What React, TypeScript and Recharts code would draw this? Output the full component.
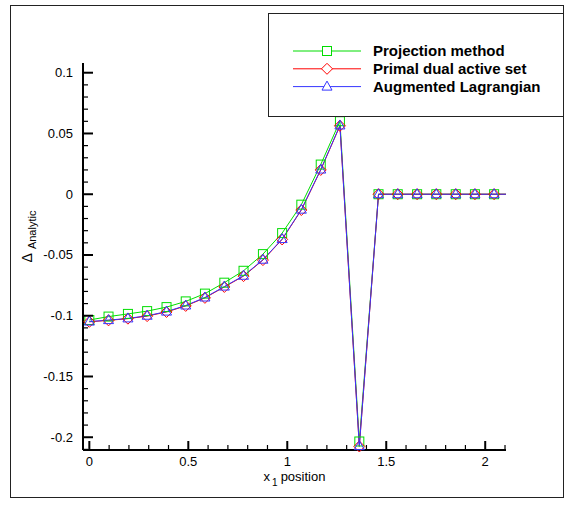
import { LineChart, Line, XAxis, YAxis, Label } from 'recharts'

// x position of every sample (last one has no marker, line just runs to the edge)
const xPos = [0, 0.097, 0.195, 0.292, 0.39, 0.487, 0.584, 0.682, 0.779, 0.877, 0.974, 1.071, 1.169, 1.266, 1.364, 1.461, 1.558, 1.656, 1.753, 1.851, 1.948, 2.045, 2.105]

const projection = [-0.1035, -0.1007, -0.0985, -0.0962, -0.0929, -0.0882, -0.0818, -0.0728, -0.063, -0.0493, -0.032, -0.0086, 0.0244, 0.0601, -0.2035, 0, 0, 0, 0, 0, 0, 0, 0]
const primalDual = [-0.105, -0.1038, -0.1024, -0.1003, -0.0969, -0.0919, -0.0853, -0.0763, -0.0674, -0.0542, -0.0372, -0.013, 0.02, 0.0563, -0.2076, 0, 0, 0, 0, 0, 0, 0, 0]
const augmented = [-0.1048, -0.1036, -0.1022, -0.1, -0.0966, -0.0916, -0.085, -0.076, -0.0671, -0.0539, -0.0369, -0.0127, 0.0203, 0.0566, -0.2073, 0, 0, 0, 0, 0, 0, 0, 0]

const xMajor = [0, 0.5, 1, 1.5, 2]
const yMajor = [-0.2, -0.15, -0.1, -0.05, 0, 0.05, 0.1]

// minor ticks every 0.1 on x, every 0.01 on y
const xTicks = Array.from({ length: 22 }, (_, i) => i / 10)
const yTicks = Array.from({ length: 32 }, (_, i) => Math.round((-0.21 + i * 0.01) * 100) / 100)

const data = xPos.map((x, i) => ({
  x,
  proj: projection[i],
  pdas: primalDual[i],
  al: augmented[i],
}))

const lastIdx = xPos.length - 1
const FONT = '"Liberation Sans", Arial, sans-serif'

const GREEN = '#00dd00'
const RED = '#ff0000'
const BLUE = '#3535ff'

const isMajor = (v: number, list: number[]) => list.some(m => Math.abs(m - v) < 1e-6)

const XTick = (p: any) => {
  const v = p.payload.value
  const major = isMajor(v, xMajor)
  const x = p.payload.coordinate
  const y = 450
  return (
    <g>
      <line x1={x} x2={x} y1={y} y2={y - (major ? 9 : 5)} stroke="#000" strokeWidth={major ? 2 : 1.2} />
      {major && (
        <text x={x} y={y + 16} textAnchor="middle" fontSize={13} fontFamily={FONT} fill="#000">{String(v)}</text>
      )}
    </g>
  )
}

const YTick = (p: any) => {
  const v = p.payload.value
  const major = isMajor(v, yMajor)
  const y = p.payload.coordinate
  const x = 83
  return (
    <g>
      <line x1={x} x2={x + (major ? 10 : 5)} y1={y} y2={y} stroke="#000" strokeWidth={major ? 2 : 1.2} />
      {major && (
        <text x={x - 10} y={y + 4.5} textAnchor="end" fontSize={13} fontFamily={FONT} fill="#000">{String(v)}</text>
      )}
    </g>
  )
}

const squareDot = (p: any) => p.index === lastIdx ? <g key={p.key} /> : (
  <rect key={p.key} x={p.cx - 4.5} y={p.cy - 4.5} width={9} height={9} fill="none" stroke={GREEN} strokeWidth={1} />
)
const diamondDot = (p: any) => p.index === lastIdx ? <g key={p.key} /> : (
  <path key={p.key} d={`M${p.cx},${p.cy - 5.5}L${p.cx + 5.5},${p.cy}L${p.cx},${p.cy + 5.5}L${p.cx - 5.5},${p.cy}Z`} fill="none" stroke={RED} strokeWidth={1} />
)
const triangleDot = (p: any) => p.index === lastIdx ? <g key={p.key} /> : (
  <path key={p.key} d={`M${p.cx},${p.cy - 5.5}L${p.cx + 5},${p.cy + 3.5}L${p.cx - 5},${p.cy + 3.5}Z`} fill="none" stroke={BLUE} strokeWidth={1} />
)

const legendItems = [
  { name: 'Projection method', color: GREEN, marker: 'square' },
  { name: 'Primal dual active set', color: RED, marker: 'diamond' },
  { name: 'Augmented Lagrangian', color: BLUE, marker: 'triangle' },
]

function LegendBox() {
  return (
    <svg width={297} height={105} style={{ position: 'absolute', left: 268, top: 13 }}>
      <rect x={0.5} y={0.5} width={295} height={103} fill="#fff" stroke="#222" strokeWidth={1} />
      {legendItems.map((it, i) => {
        const cy = 38 + i * 17.8
        const cx = 59
        return (
          <g key={it.name}>
            <line x1={25} x2={93} y1={cy} y2={cy} stroke={it.color} strokeWidth={1} />
            {it.marker === 'square' && <rect x={cx - 4.5} y={cy - 4.5} width={9} height={9} fill="#fff" stroke={it.color} />}
            {it.marker === 'diamond' && <path d={`M${cx},${cy - 5.5}L${cx + 5.5},${cy}L${cx},${cy + 5.5}L${cx - 5.5},${cy}Z`} fill="#fff" stroke={it.color} />}
            {it.marker === 'triangle' && <path d={`M${cx},${cy - 5.5}L${cx + 5},${cy + 3.5}L${cx - 5},${cy + 3.5}Z`} fill="#fff" stroke={it.color} />}
            <text x={105} y={cy + 5} fontSize={15} fontWeight="bold" fontFamily={FONT} fill="#000">{it.name}</text>
          </g>
        )
      })}
    </svg>
  )
}

export default function App() {
  return (
    <div style={{ position: 'absolute', left: 0, top: 0, width: 575, height: 509, background: '#fff' }}>
      {/* outer frame */}
      <div style={{ position: 'absolute', left: 10, top: 5, width: 552, height: 491, border: '1px solid #222' }} />
      <div style={{ position: 'absolute', left: 0, top: 0 }}>
        <LineChart width={575} height={509} data={data} margin={{ top: 63, right: 69, bottom: 49, left: 73 }}>
          <XAxis
            dataKey="x" type="number" domain={[-0.032, 2.105]} ticks={xTicks} interval={0}
            height={10} tickSize={0} tickMargin={0} tickLine={false}
            axisLine={{ stroke: '#000', strokeWidth: 2 }} tick={XTick}
          >
            <Label content={(p: any) => {
              const vb = p.viewBox
              const cx = vb.x + vb.width / 2
              return (
                <text x={cx} y={481} textAnchor="middle" fontFamily={FONT} fontSize={13} fill="#000">
                  x<tspan fontSize={10} dy={5} dx={2}>1</tspan><tspan dy={-5} dx={3}>position</tspan>
                </text>
              )
            }} />
          </XAxis>
          <YAxis
            type="number" domain={[-0.2105, 0.108]} ticks={yTicks} interval={0}
            width={10} tickSize={0} tickMargin={0} tickLine={false}
            axisLine={{ stroke: '#000', strokeWidth: 2 }} tick={YTick}
          >
            <Label content={(p: any) => {
              const vb = p.viewBox
              const cx = 32
              const cy = vb.y + vb.height / 2 - 20
              return (
                <text x={cx} y={cy} transform={`rotate(-90, ${cx}, ${cy})`} textAnchor="middle" fontFamily={FONT} fontSize={14} fill="#000">
                  Δ<tspan fontSize={11} dx={4} dy={4}>Analytic</tspan>
                </text>
              )
            }} />
          </YAxis>
          <Line type="linear" dataKey="proj" stroke={GREEN} strokeWidth={1} dot={squareDot} isAnimationActive={false} />
          <Line type="linear" dataKey="pdas" stroke={RED} strokeWidth={1} dot={diamondDot} isAnimationActive={false} />
          <Line type="linear" dataKey="al" stroke={BLUE} strokeWidth={1} dot={triangleDot} isAnimationActive={false} />
        </LineChart>
      </div>
      <LegendBox />
    </div>
  )
}
